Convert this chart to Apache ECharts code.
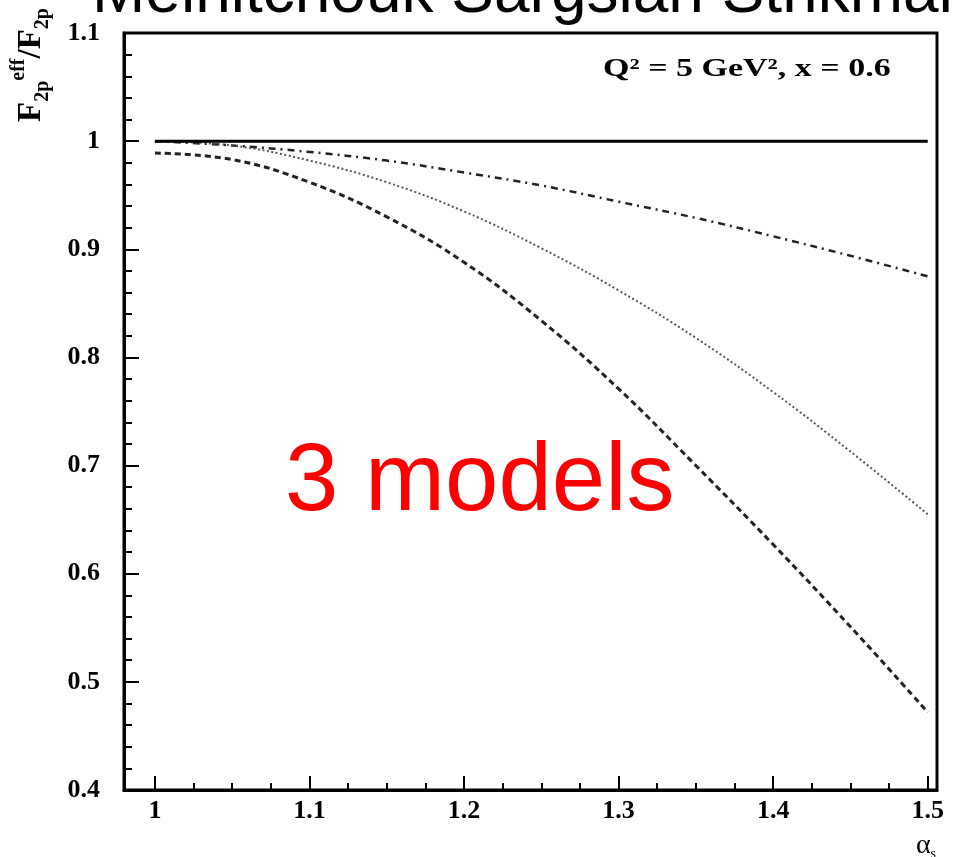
<!DOCTYPE html>
<html>
<head>
<meta charset="utf-8">
<script src="https://cdn.jsdelivr.net/npm/echarts@6/dist/echarts.min.js"></script>
<style>
  html, body { margin: 0; padding: 0; background: #ffffff; }
  #chart { width: 954px; height: 857px; }
</style>
</head>
<body>
<div id="chart"></div>
<script>
// alpha_s sample points and the ratio F2p_eff / F2p for each model
const alphaS       = [1.00, 1.05, 1.10, 1.15, 1.20, 1.25, 1.30, 1.35, 1.40, 1.45, 1.50];
const noModif      = [1.000, 1.000, 1.000, 1.000, 1.000, 1.000, 1.000, 1.000, 1.000, 1.000, 1.000];
const dashDotModel = [1.000, 0.996, 0.990, 0.982, 0.971, 0.959, 0.944, 0.929, 0.912, 0.894, 0.875];
const dottedModel  = [1.000, 0.996, 0.982, 0.962, 0.935, 0.901, 0.862, 0.818, 0.768, 0.713, 0.655];
const dashedModel  = [0.989, 0.983, 0.962, 0.930, 0.888, 0.834, 0.771, 0.700, 0.627, 0.551, 0.472];

// axis ticks
const xMajorTicks = [1.0, 1.1, 1.2, 1.3, 1.4, 1.5];
const xMinorTicks = [1.025, 1.05, 1.075, 1.125, 1.15, 1.175, 1.225, 1.25, 1.275,
                     1.325, 1.35, 1.375, 1.425, 1.45, 1.475];

const pairs = ys => alphaS.map((a, i) => [a, ys[i]]);
const fmt = v => parseFloat(Number(v).toFixed(2)).toString();

const serif = '"Liberation Serif", "Times New Roman", serif';
const sans = '"Liberation Sans", Arial, sans-serif';

const labelStyle = { color: '#000', fontFamily: serif, fontWeight: 'bold', fontSize: 26 };

const chart = echarts.init(document.getElementById('chart'));

chart.setOption({
  animation: false,
  backgroundColor: '#ffffff',
  grid: {
    left: 124, right: 17, top: 33, bottom: 67,
    show: true, borderColor: '#000', borderWidth: 3, backgroundColor: 'transparent'
  },
  xAxis: [
    {
      type: 'value', min: 0.98, max: 1.506,
      axisLine: { show: true, lineStyle: { color: '#000', width: 3 } },
      axisTick: { show: true, inside: true, length: 14, customValues: xMajorTicks,
                  lineStyle: { color: '#000', width: 2 } },
      axisLabel: Object.assign({ customValues: xMajorTicks, margin: 8, formatter: fmt }, labelStyle),
      splitLine: { show: false }
    },
    {
      type: 'value', min: 0.98, max: 1.506, position: 'bottom',
      axisLine: { show: false },
      axisTick: { show: true, inside: true, length: 7, customValues: xMinorTicks,
                  lineStyle: { color: '#000', width: 2 } },
      axisLabel: { show: false },
      splitLine: { show: false }
    }
  ],
  yAxis: {
    type: 'value', min: 0.4, max: 1.1, interval: 0.1,
    axisLine: { show: true, lineStyle: { color: '#000', width: 3 } },
    axisTick: { show: true, inside: true, length: 15, lineStyle: { color: '#000', width: 2 } },
    minorTick: { show: true, splitNumber: 5, length: 8, lineStyle: { color: '#000', width: 2 } },
    axisLabel: Object.assign({ margin: 24, formatter: fmt }, labelStyle),
    splitLine: { show: false }
  },
  series: [
    {
      name: 'no modification', type: 'line', symbol: 'none', data: pairs(noModif),
      lineStyle: { color: '#000', width: 3, type: 'solid' }, z: 5
    },
    {
      name: 'model A', type: 'line', symbol: 'none', smooth: 0.4, data: pairs(dashDotModel),
      lineStyle: { color: '#222', width: 2.5, type: [7, 5, 2, 5] }
    },
    {
      name: 'model B', type: 'line', symbol: 'none', smooth: 0.4, data: pairs(dottedModel),
      lineStyle: { color: '#555', width: 2, type: [2, 2.5] }
    },
    {
      name: 'model C', type: 'line', symbol: 'none', smooth: 0.4, data: pairs(dashedModel),
      lineStyle: { color: '#222', width: 3, type: [6, 4] }
    }
  ],
  graphic: [
    {
      type: 'text', x: 92, y: -38, silent: true,
      style: { text: 'Melnitchouk Sargsian Strikman', fill: '#000', verticalAlign: 'top',
               font: '64px ' + sans }
    },
    {
      type: 'text', x: 603, y: 82, scaleX: 1.36, silent: true,
      style: { text: 'Q² = 5 GeV², x = 0.6', fill: '#000', verticalAlign: 'bottom',
               font: 'bold 25px ' + serif }
    },
    {
      type: 'text', x: 285, y: 436, silent: true,
      style: { text: '3 models', fill: '#ff0000', verticalAlign: 'top',
               font: '96px ' + sans }
    },
    {
      type: 'text', x: 31, y: 65, rotation: Math.PI / 2, silent: true,
      style: {
        text: '{b|F}{s|2p}{u|eff}{b|/F}{s|2p}',
        align: 'center', verticalAlign: 'middle',
        rich: {
          b: { fontFamily: serif, fontWeight: 'bold', fontSize: 33, fill: '#000', lineHeight: 44, verticalAlign: 'middle' },
          s: { fontFamily: serif, fontWeight: 'bold', fontSize: 20, fill: '#000', lineHeight: 44, verticalAlign: 'bottom' },
          u: { fontFamily: serif, fontWeight: 'bold', fontSize: 20, fill: '#000', lineHeight: 44, verticalAlign: 'top' }
        }
      }
    },
    {
      type: 'text', x: 926, y: 846, silent: true,
      style: {
        text: '{a|α}{s|s}', align: 'center', verticalAlign: 'middle',
        rich: {
          a: { fontFamily: serif, fontSize: 28, fill: '#000', lineHeight: 30, verticalAlign: 'middle' },
          s: { fontFamily: serif, fontSize: 14, fill: '#000', lineHeight: 30, verticalAlign: 'bottom' }
        }
      }
    }
  ]
});
</script>
</body>
</html>
